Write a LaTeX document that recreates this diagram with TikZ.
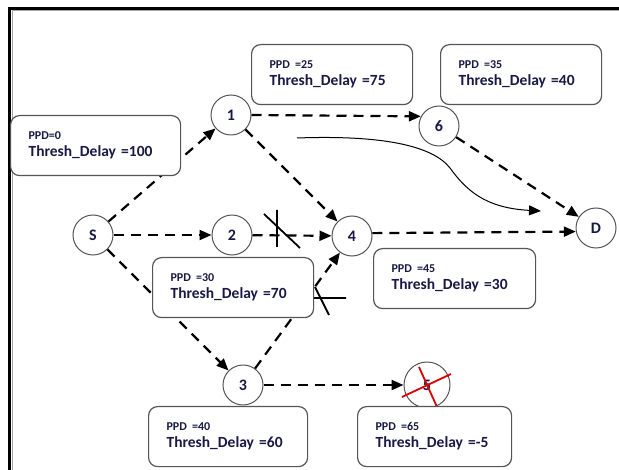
\documentclass[tikz,border=0pt]{standalone}
\usepackage{fontspec}
\setmainfont{Carlito}
\usepackage{tikz}
\usetikzlibrary{arrows.meta,calc}
\definecolor{txtnavy}{RGB}{25,25,70}
\definecolor{rimgray}{RGB}{85,85,85}
\newcommand{\ppdline}[1]{{\fontsize{12}{14}\selectfont #1}}

\begin{document}
\begin{tikzpicture}[x=1pt,y=-1pt,
  router/.style={circle,draw=rimgray,line width=1pt,fill=white,
                 minimum size=40pt,inner sep=0pt,text=txtnavy,
                 font=\fontsize{16}{18}\selectfont\bfseries},
  infobox/.style={rectangle,rounded corners=9pt,draw=rimgray,line width=1.2pt,
                  fill=white,minimum height=60pt,inner xsep=18pt,align=left,
                  anchor=north west,text=txtnavy,
                  font=\fontsize{15.5}{17}\selectfont\bfseries},
  hop/.style={line width=2.2pt,dash pattern=on 10pt off 7pt,
              -{Triangle[length=12pt,width=10pt]}},
  cutmark/.style={line width=1.8pt},
  dropmark/.style={line width=1.8pt,red!85!black},
]
\useasboundingbox (0,0) rectangle (619,470);
% frame
\draw[line width=3pt] (9.5,470) -- (9.5,8.5) -- (619,8.5);
\draw[gray!70,line width=1pt] (12,470) -- (12,11) -- (619,11);
% routers
\node[router] (s)  at (93,235)  {S};
\node[router] (n1) at (231,115) {1};
\node[router] (n2) at (232,235) {2};
\node[router] (n3) at (243,385) {3};
\node[router] (n4) at (352,236) {4};
\node[router] (n6) at (439,126) {6};
\node[router] (d)  at (596,228) {D};
\node[router,minimum size=46pt] (n5) at (427,385) {5};
% forwarding hops
\draw[hop] (s) -- (n1);
\draw[hop] (s) -- (n2);
\draw[hop] (s) -- (n3);
\draw[hop] (n1.east) -- (n6.152);
\draw[hop] (n1) -- (n4);
\draw[hop] (n2) -- (n4);
\draw[hop] (n3) -- (n4);
\draw[hop] (n4.8) -- (d.190);
\draw[hop] (n6) -- (d);
\draw[hop] (n3) -- (n5);
% path towards D
\coordinate (bendin) at (297,138);
\coordinate (bendout) at (541,211);
\draw[line width=1pt,-{Triangle[length=12pt,width=10pt]}] (bendin)
    .. controls (380,135) and (432,145) .. (450,168)
    .. controls (466,190) and (485,208) .. (bendout);
% blocked links
\draw[cutmark] (277,210) -- (277,247) (264,214) -- (300,248);
\draw[cutmark] (314,298) -- (346,298) (315,287) -- (329,315);
% dropped at 5
\draw[dropmark] ($(n5)+(-8,-18)$) -- ($(n5)+(10,22)$)
                ($(n5)+(-25,12)$) -- ($(n5)+(24,-11)$);
% delay boxes
\node[infobox,text width=134pt] (boxs)  at (10,115)  {\ppdline{PPD=0}\\Thresh\_Delay =100};
\node[infobox,text width=125pt] (box1)  at (251,44)  {\ppdline{PPD =25}\\Thresh\_Delay =75};
\node[infobox,text width=125pt] (box6)  at (440,44)  {\ppdline{PPD =35}\\Thresh\_Delay =40};
\node[infobox,text width=125pt] (box2)  at (152,257) {\ppdline{PPD =30}\\Thresh\_Delay =70};
\node[infobox,text width=126pt] (box4)  at (373,248) {\ppdline{PPD =45}\\Thresh\_Delay =30};
\node[infobox,text width=123pt] (box3)  at (148,406) {\ppdline{PPD =40}\\Thresh\_Delay =60};
\node[infobox,text width=118pt] (box5)  at (357,406) {\ppdline{PPD =65}\\Thresh\_Delay =-5};
\end{tikzpicture}
\end{document}
